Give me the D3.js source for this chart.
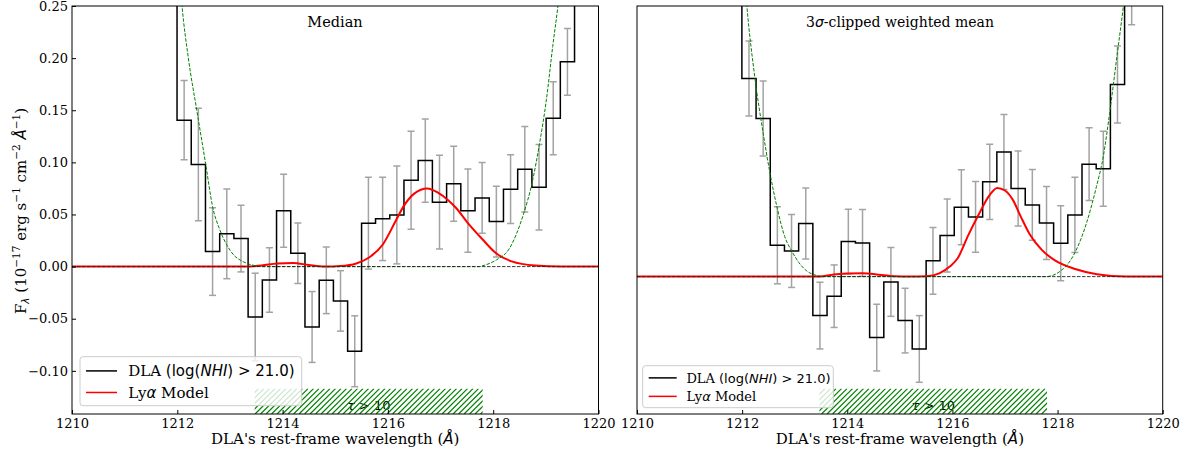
<!DOCTYPE html>
<html>
<head>
<meta charset="utf-8">
<script src="https://cdn.jsdelivr.net/npm/d3@7"></script>
<style>
body { margin: 0; background: #fff; }
svg text { font-family: "DejaVu Serif", serif; fill: #000; }
</style>
</head>
<body>
<div id="chart"></div>
<script>
// bin centres of the stacked spectra (Angstrom)
var wave = [1211.86, 1212.13, 1212.40, 1212.67, 1212.94, 1213.21, 1213.48, 1213.75, 1214.02, 1214.29,
    1214.56, 1214.83, 1215.10, 1215.37, 1215.63, 1215.90, 1216.17, 1216.44, 1216.71, 1216.98,
    1217.25, 1217.52, 1217.79, 1218.06, 1218.33, 1218.60, 1218.87, 1219.14, 1219.41, 1219.68];

// median stack
var medianFlux = [0.40, 0.1405, 0.098, 0.0144, 0.0314, 0.0269, -0.0483, -0.0128, 0.0535, 0.0128,
    -0.0579, -0.0131, -0.0329, -0.0812, 0.0416, 0.0458, 0.0496, 0.0829, 0.1017, 0.0618,
    0.0794, 0.0537, 0.0659, 0.0432, 0.0743, 0.0935, 0.0762, 0.1424, 0.1964, 0.36];
var medianErr = [0.05, 0.038, 0.054, 0.042, 0.043, 0.032, 0.042, 0.031, 0.035, 0.029,
    0.034, 0.032, 0.029, 0.034, 0.044, 0.040, 0.047, 0.047, 0.040, 0.045,
    0.036, 0.040, 0.034, 0.034, 0.033, 0.041, 0.041, 0.035, 0.032, 0.05];

// 3 sigma-clipped weighted mean stack
var meanFlux = [0.40, 0.1804, 0.142, 0.0205, 0.015, 0.0413, -0.047, -0.0284, 0.024, 0.0227,
    -0.0681, -0.0147, -0.0518, -0.079, 0.0055, 0.0298, 0.057, 0.0477, 0.0813, 0.11,
    0.0749, 0.0592, 0.0419, 0.0224, 0.0496, 0.0983, 0.0938, 0.1747, 0.28, 0.42];
var meanErr = [0.05, 0.036, 0.036, 0.037, 0.035, 0.034, 0.032, 0.030, 0.031, 0.032,
    0.032, 0.033, 0.031, 0.032, 0.032, 0.035, 0.036, 0.034, 0.036, 0.036,
    0.036, 0.034, 0.035, 0.036, 0.036, 0.035, 0.036, 0.037, 0.048, 0.05];

// Lya emission model (red)
var modelWaveMedian = [1210, 1213.3, 1213.6, 1213.9, 1214.2, 1214.5, 1214.8, 1215.1, 1215.4, 1215.65,
    1215.9, 1216.15, 1216.3, 1216.5, 1216.75, 1216.95, 1217.15, 1217.3, 1217.5, 1217.8,
    1218.05, 1218.35, 1218.8, 1219.3, 1220];
var modelFluxMedian = [0, 0, 0.001, 0.003, 0.0035, 0.0015, 0, 0.0005, 0.003, 0.009,
    0.021, 0.044, 0.058, 0.070, 0.075, 0.071, 0.0635, 0.056, 0.043, 0.026,
    0.013, 0.005, 0.001, 0, 0];
var modelWaveMean = [1210, 1213.4, 1213.7, 1214.0, 1214.3, 1214.6, 1214.9, 1215.2, 1215.5, 1215.75,
    1215.95, 1216.1, 1216.3, 1216.5, 1216.7, 1216.85, 1217.0, 1217.15, 1217.3, 1217.47,
    1217.7, 1217.95, 1218.35, 1218.75, 1219.3, 1220];
var modelFluxMean = [-0.0096, -0.0096, -0.008, -0.0065, -0.0063, -0.0078, -0.0093, -0.0096, -0.0093, -0.0065,
    0.000, 0.008, 0.030, 0.050, 0.068, 0.0755, 0.073, 0.064, 0.048, 0.031,
    0.016, 0.006, -0.0025, -0.0073, -0.0095, -0.0096];

// DLA damping-wing profile (green dashed)
var dlaWaveMedian = [1212.0, 1212.09, 1212.21, 1212.37, 1212.54, 1212.67, 1212.81, 1212.94, 1213.07, 1213.21,
    1213.35, 1213.5, 1213.6, 1217.74, 1217.8, 1218.06, 1218.31, 1218.56, 1218.75, 1218.88,
    1219.01, 1219.13, 1219.23, 1219.3];
var dlaFluxMedian = [0.31, 0.25, 0.20, 0.150, 0.098, 0.0576, 0.035, 0.0208, 0.0112, 0.0058,
    0.0026, 0.0007, 0, 0, 0.0008, 0.0064, 0.0176, 0.048, 0.083, 0.118,
    0.16, 0.211, 0.25, 0.28];
var dlaWaveMean = [1212.0, 1212.09, 1212.24, 1212.40, 1212.53, 1212.67, 1212.81, 1212.95, 1213.08, 1213.22,
    1213.42, 1213.55, 1217.76, 1217.85, 1218.04, 1218.29, 1218.55, 1218.74, 1218.87, 1218.99,
    1219.12, 1219.25, 1219.32];
var dlaFluxMean = [0.31, 0.25, 0.182, 0.128, 0.0896, 0.0555, 0.0288, 0.0144, 0.0038, -0.0038,
    -0.0086, -0.0096, -0.0096, -0.0092, -0.0048, 0.0096, 0.0417, 0.0768, 0.1056, 0.147,
    0.198, 0.249, 0.28];

var baseMedian = 0;
var baseMean = -0.0096;

// tau > 10 region
var tauRange = [1213.47, 1217.80];
var tauTop = -0.117;

var xTicks = [1210, 1212, 1214, 1216, 1218, 1220];
var yTicks = [0.25, 0.20, 0.15, 0.10, 0.05, 0.00, -0.05, -0.10];

var W = 1191, H = 452;
var yRange = [-0.1414, 0.25];
var top0 = 6, bottom0 = 414;
var hatchStep = 5.5;

var svg = d3.select("#chart").append("svg")
    .attr("width", W)
    .attr("height", H);

var defs = svg.append("defs");

var y = d3.scaleLinear().domain(yRange).range([bottom0, top0]);

const panels = [{
        id: "p0",
        left: 72,
        right: 598.5,
        title: "median",
        flux: medianFlux,
        err: medianErr,
        mw: modelWaveMedian,
        mf: modelFluxMedian,
        dw: dlaWaveMedian,
        df: dlaFluxMedian,
        base: baseMedian,
        showY: true,
        legend: {x: 80, y: 356.7, w: 221.7, h: 49, fs: 15, hl: 31}
    },
    {
        id: "p1",
        left: 637,
        right: 1162.7,
        title: "mean",
        flux: meanFlux,
        err: meanErr,
        mw: modelWaveMean,
        mf: modelFluxMean,
        dw: dlaWaveMean,
        df: dlaFluxMean,
        base: baseMean,
        showY: false,
        legend: {x: 642.7, y: 365.7, w: 190.6, h: 42, fs: 13, hl: 28}
    }
]

function draw(p) {
    var x = d3.scaleLinear().domain([1210, 1220]).range([p.left, p.right]);

    defs.append("clipPath").attr("id", "clip-" + p.id)
        .append("rect")
        .attr("x", p.left).attr("y", top0)
        .attr("width", p.right - p.left).attr("height", bottom0 - top0);

    var g = svg.append("g").attr("clip-path", "url(#clip-" + p.id + ")");

    // tau > 10 label, hatch goes over it
    var tau = g.append("text")
        .attr("x", x((tauRange[0] + tauRange[1]) / 2))
        .attr("y", 410)
        .attr("text-anchor", "middle")
        .style("font-family", "DejaVu Sans")
        .style("font-size", "13px");
    tau.append("tspan").style("font-style", "italic").text("τ");
    tau.append("tspan").text(" > 10");

    // hatched band: diagonal lines clipped to the band
    var hx0 = x(tauRange[0]), hx1 = x(tauRange[1]);
    var hy0 = y(tauTop), hy1 = y(yRange[0]);
    defs.append("clipPath").attr("id", "hclip-" + p.id)
        .append("rect")
        .attr("x", hx0).attr("y", hy0)
        .attr("width", hx1 - hx0).attr("height", hy1 - hy0);
    var hg = g.append("g")
        .attr("clip-path", "url(#hclip-" + p.id + ")")
        .attr("stroke", "#008000")
        .attr("stroke-width", 1.2);
    var hh = hy1 - hy0;
    var starts = d3.range(Math.floor(hx0 / hatchStep) * hatchStep - hh, hx1 + hatchStep, hatchStep);
    hg.selectAll("line").data(starts).enter().append("line")
        .attr("x1", function (d) { return d; })
        .attr("y1", hy1)
        .attr("x2", function (d) { return d + hh; })
        .attr("y2", hy0);

    // error bars
    var eb = g.append("g").attr("stroke", "#a3a3a3").attr("stroke-width", 1.5);
    wave.forEach(function (w, i) {
        var cx = x(w), y1 = y(p.flux[i] + p.err[i]), y2 = y(p.flux[i] - p.err[i]);
        eb.append("line").attr("x1", cx).attr("x2", cx).attr("y1", y1).attr("y2", y2);
        eb.append("line").attr("x1", cx - 3.5).attr("x2", cx + 3.5).attr("y1", y1).attr("y2", y1);
        eb.append("line").attr("x1", cx - 3.5).attr("x2", cx + 3.5).attr("y1", y2).attr("y2", y2);
    });

    // stacked spectrum
    g.append("path")
        .datum(wave.map(function (w, i) { return [w, p.flux[i]]; }))
        .attr("d", d3.line()
            .x(function (d) { return x(d[0]); })
            .y(function (d) { return y(d[1]); })
            .curve(d3.curveStep))
        .attr("fill", "none")
        .attr("stroke", "#000")
        .attr("stroke-width", 1.5);

    // Lya model
    g.append("path")
        .datum(p.mw.map(function (w, i) { return [w, p.mf[i]]; }))
        .attr("d", d3.line()
            .x(function (d) { return x(d[0]); })
            .y(function (d) { return y(d[1]); })
            .curve(d3.curveMonotoneX))
        .attr("fill", "none")
        .attr("stroke", "red")
        .attr("stroke-width", 2);

    // DLA profile
    g.append("path")
        .datum(p.dw.map(function (w, i) { return [w, p.df[i]]; }))
        .attr("d", d3.line()
            .x(function (d) { return x(d[0]); })
            .y(function (d) { return y(d[1]); })
            .curve(d3.curveMonotoneX))
        .attr("fill", "none")
        .attr("stroke", "green")
        .attr("stroke-width", 1)
        .attr("stroke-dasharray", "3.5,1.5");

    // continuum level
    g.append("line")
        .attr("x1", p.left).attr("x2", p.right)
        .attr("y1", y(p.base)).attr("y2", y(p.base))
        .attr("stroke", "#222")
        .attr("stroke-width", 0.9)
        .attr("stroke-dasharray", "3.5,1.5");

    // axes
    var xa = svg.append("g")
        .attr("transform", "translate(0," + bottom0 + ")")
        .call(d3.axisBottom(x).tickValues(xTicks).tickSizeInner(-4).tickSizeOuter(0)
            .tickPadding(5).tickFormat(d3.format("d")));
    xa.select(".domain").remove();
    xa.selectAll("text").style("font-family", "DejaVu Serif").style("font-size", "13px");

    if (p.showY) {
        var ya = svg.append("g")
            .attr("transform", "translate(" + p.left + ",0)")
            .call(d3.axisLeft(y).tickValues(yTicks).tickSizeInner(-4).tickSizeOuter(0)
                .tickPadding(4).tickFormat(d3.format(".2f")));
        ya.select(".domain").remove();
        ya.selectAll("text").style("font-family", "DejaVu Serif").style("font-size", "13px");
    }

    svg.append("rect")
        .attr("x", p.left).attr("y", top0)
        .attr("width", p.right - p.left).attr("height", bottom0 - top0)
        .attr("fill", "none")
        .attr("stroke", "#000")
        .attr("stroke-width", 1);

    // title inside the axes
    var t = svg.append("text")
        .attr("x", p.title === "median" ? 335 : 900)
        .attr("y", 27)
        .attr("text-anchor", "middle")
        .style("font-size", p.title === "median" ? "14.5px" : "14px");
    if (p.title === "median") {
        t.text("Median");
    } else {
        t.append("tspan").text("3");
        t.append("tspan").style("font-family", "DejaVu Sans").style("font-style", "italic").text("σ");
        t.append("tspan").text("-clipped weighted mean");
    }

    // x label
    var xl = svg.append("text")
        .attr("x", (p.left + p.right) / 2)
        .attr("y", 444)
        .attr("text-anchor", "middle")
        .style("font-size", "15px");
    xl.append("tspan").text("DLA's rest-frame wavelength (");
    xl.append("tspan").style("font-family", "DejaVu Sans").style("font-style", "italic").text("Å");
    xl.append("tspan").text(")");

    // legend
    var L = p.legend;
    var lg = svg.append("g");
    lg.append("rect")
        .attr("x", L.x).attr("y", L.y)
        .attr("width", L.w).attr("height", L.h)
        .attr("rx", 3)
        .attr("fill", "white")
        .attr("fill-opacity", 0.8)
        .attr("stroke", "#cccccc")
        .attr("stroke-width", 1);
    var rowH = L.h * 0.44;
    var r1 = L.y + L.h * 0.29, r2 = r1 + rowH;
    lg.append("line").attr("x1", L.x + 6).attr("x2", L.x + 6 + L.hl)
        .attr("y1", r1).attr("y2", r1).attr("stroke", "#000").attr("stroke-width", 1.5);
    lg.append("line").attr("x1", L.x + 6).attr("x2", L.x + 6 + L.hl)
        .attr("y1", r2).attr("y2", r2).attr("stroke", "red").attr("stroke-width", 1.5);
    var tx = L.x + 6 + L.hl + L.fs * 0.75;
    var e1 = lg.append("text").attr("x", tx).attr("y", r1 + L.fs * 0.36).style("font-size", L.fs + "px");
    e1.append("tspan").text("DLA ");
    e1.append("tspan").style("font-family", "DejaVu Sans").text("(log(");
    e1.append("tspan").style("font-family", "DejaVu Sans").style("font-style", "italic").text("NHI");
    e1.append("tspan").style("font-family", "DejaVu Sans").text(") > 21.0)");
    var e2 = lg.append("text").attr("x", tx).attr("y", r2 + L.fs * 0.36).style("font-size", L.fs + "px");
    e2.append("tspan").text("Ly");
    e2.append("tspan").style("font-family", "DejaVu Sans").style("font-style", "italic").text("α");
    e2.append("tspan").text(" Model");
}

for (var c of panels) {
    draw(c);
}

// y label
var yl = svg.append("text")
    .attr("transform", "translate(26,211) rotate(-90)")
    .attr("text-anchor", "middle")
    .style("font-size", "15px");
yl.append("tspan").text("F");
yl.append("tspan").attr("dy", 3).style("font-size", "10.5px").style("font-family", "DejaVu Sans").style("font-style", "italic").text("λ");
yl.append("tspan").attr("dy", -3).text(" (10");
yl.append("tspan").attr("dy", -6).style("font-size", "10.5px").text("−17");
yl.append("tspan").attr("dy", 6).text(" erg s");
yl.append("tspan").attr("dy", -6).style("font-size", "10.5px").text("−1");
yl.append("tspan").attr("dy", 6).text(" cm");
yl.append("tspan").attr("dy", -6).style("font-size", "10.5px").text("−2");
yl.append("tspan").attr("dy", 6).text(" ");
yl.append("tspan").style("font-family", "DejaVu Sans").style("font-style", "italic").text("Å");
yl.append("tspan").attr("dy", -6).style("font-size", "10.5px").text("−1");
yl.append("tspan").attr("dy", 6).text(")");
</script>
</body>
</html>
